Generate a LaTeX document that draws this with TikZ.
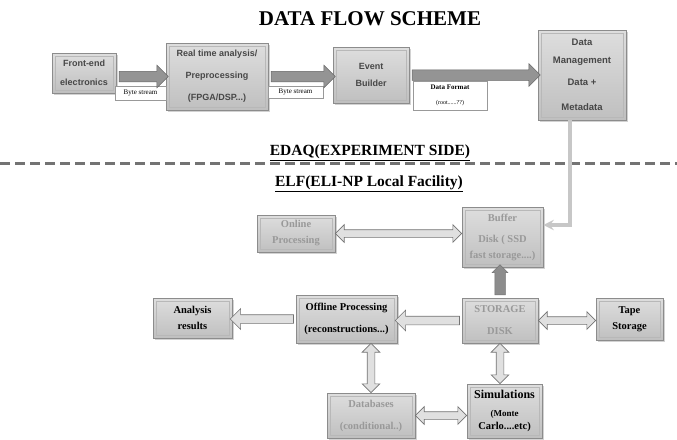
\documentclass[tikz,border=0pt]{standalone}
\usepackage{fontspec}
\setmainfont{Liberation Serif}
\setsansfont{Liberation Sans}
\usepackage{tikz}
\usetikzlibrary{shapes.geometric, shapes.arrows, arrows, positioning, calc, shadows}

\begin{document}
\begin{tikzpicture}[
    x=1pt, y=-1pt,
    box/.style={rectangle, draw=black!45, line width=0.8pt, top color=black!13, bottom color=black!25, text centered, align=center, inner sep=2pt,
        drop shadow={shadow xshift=1.5pt, shadow yshift=-1.5pt, opacity=0.35},
        path picture={\draw[black!28, line width=0.5pt] ([shift={(3pt,-3pt)}]path picture bounding box.north west) rectangle ([shift={(-3pt,3pt)}]path picture bounding box.south east);}},
    topbox/.style={box, text=black!72, font=\sffamily\bfseries\fontsize{9}{#1}\selectfont},
    darkbox/.style={box, text=black, font=\bfseries\fontsize{10.5}{#1}\selectfont},
    fadebox/.style={box, text=black!40, font=\bfseries\fontsize{10.5}{#1}\selectfont},
    infobox/.style={rectangle, draw=black!40, fill=white, inner sep=1pt, align=center, font=\fontsize{7}{15}\selectfont},
    heading/.style={font=\bfseries\fontsize{15.5}{18}\selectfont},
    flowarrow/.style={single arrow, draw=black!60, fill=black!42, line width=0.5pt, inner xsep=0pt, inner ysep=5pt, single arrow head extend=6pt},
    pusharrow/.style={single arrow, draw=black!55, fill=black!45, line width=0.5pt, inner xsep=0pt, inner ysep=5pt, single arrow head extend=2.5pt},
    linkarrow/.style={single arrow, draw=black!55, fill=black!12, line width=0.6pt, inner xsep=0pt, inner ysep=4pt, single arrow head extend=6pt},
    twoway/.style={double arrow, draw=black!55, fill=black!12, line width=0.6pt, inner xsep=0pt, inner ysep=3.5pt, double arrow head extend=5pt},
    feed/.style={->, >=stealth, line width=3.5pt, black!22}
]
\path[use as bounding box, fill=white] (0,0) rectangle (677,439);

% Title and side headings
\node[font=\bfseries\fontsize{21}{24}\selectfont] (title) at (370,18.5) {DATA FLOW SCHEME};
\node[heading] (edaq) at (370,153) {\underline{EDAQ(EXPERIMENT SIDE)}};
\node[heading] (elf) at (369,183.5) {\underline{ELF(ELI-NP Local Facility)}};
\draw[black!55, line width=3pt, dash pattern=on 10pt off 5pt] (0,163) -- (677,163);

% Experiment side
\node[topbox=19, minimum width=64pt, minimum height=40pt] (frontend) at (84,73) {Front-end\\electronics};
\node[topbox=22, minimum width=102pt, minimum height=67pt] (rta) at (217,76.5) {Real time analysis/\\Preprocessing\\(FPGA/DSP...)};
\node[topbox=17, minimum width=76pt, minimum height=56pt] (evbuilder) at (371,75) {Event\\Builder};
\node[topbox=18, minimum width=88pt, minimum height=90pt, font=\sffamily\bfseries\fontsize{9.5}{18}\selectfont] (dataman) at (582,75) {Data\\Management\\[4pt]Data +\\[7pt]Metadata};

% Labels under the flow
\node[infobox, minimum width=51pt, minimum height=14pt] (bytea) at (140.5,93) {Byte stream};
\node[infobox, minimum width=55pt, minimum height=12pt] (byteb) at (295.5,92) {Byte stream};
\node[infobox, minimum width=74pt, minimum height=29pt] (dformat) at (450,95.5) {\textbf{Data Format}\\\fontsize{6}{7}\selectfont(root......??)};

% Local facility
\node[fadebox=16, minimum width=78pt, minimum height=37pt] (online) at (296,233.5) {Online\\Processing};
\node[fadebox=15.5, minimum width=81pt, minimum height=60pt] (buffer) at (502.5,237) {Buffer\\[6pt]Disk ( SSD\\fast storage....)};
\node[fadebox=13, minimum width=76pt, minimum height=45pt] (storage) at (500,320.5) {STORAGE\\[9pt]DISK};
\node[darkbox=16, minimum width=67pt, minimum height=42pt] (tape) at (629.5,319) {Tape\\Storage};
\node[darkbox=16, minimum width=79pt, minimum height=40pt] (analysis) at (192.5,318) {Analysis\\results};
\node[darkbox=13, minimum width=101pt, minimum height=48pt] (offline) at (346.5,319) {Offline Processing\\[9pt](reconstructions...)};
\node[fadebox=13, minimum width=88pt, minimum height=45pt] (databases) at (371,415.5) {Databases\\[9pt](conditional..)};
\node[darkbox=13, minimum width=75pt, minimum height=54pt] (sims) at (504.5,411) {\fontsize{12}{14}\selectfont Simulations\\[5pt]\fontsize{9}{13}\selectfont (Monte\\Carlo....etc)};

% Block arrows
\foreach \src/\dst in {frontend.east |- rta.west/rta.west, rta.east/evbuilder.west |- rta.east, evbuilder.east/dataman.west}
    \path let \p1=($(\dst)-(\src)$), \n1={veclen(\x1,\y1)}, \n2={atan2(\y1,\x1)} in
        node[flowarrow, minimum height=\n1, rotate=\n2] at ($(\src)!0.5!(\dst)$) {};
\foreach \src/\dst in {storage.west/offline.east |- storage.west, offline.west/analysis.east |- offline.west}
    \path let \p1=($(\dst)-(\src)$), \n1={veclen(\x1,\y1)}, \n2={atan2(\y1,\x1)} in
        node[linkarrow, minimum height=\n1, rotate=\n2] at ($(\src)!0.5!(\dst)$) {};
\foreach \src/\dst in {online.east/buffer.west |- online.east, storage.east/tape.west |- storage.east, databases.east/sims.west |- databases.east, databases.north |- offline.south/databases.north, storage.south/storage.south |- sims.north}
    \path let \p1=($(\dst)-(\src)$), \n1={veclen(\x1,\y1)}, \n2={atan2(\y1,\x1)} in
        node[twoway, minimum height=\n1, rotate=\n2] at ($(\src)!0.5!(\dst)$) {};
\path let \p1=($(storage.north |- buffer.south)-(storage.north)$), \n1={veclen(\x1,\y1)} in
    node[pusharrow, minimum height=\n1, rotate=90] at ($(storage.north)!0.5!(storage.north |- buffer.south)$) {};

% Data management to buffer
\draw[feed] ([xshift=-12pt]dataman.south) |- ([yshift=12pt]buffer.east);

\end{tikzpicture}
\end{document}
